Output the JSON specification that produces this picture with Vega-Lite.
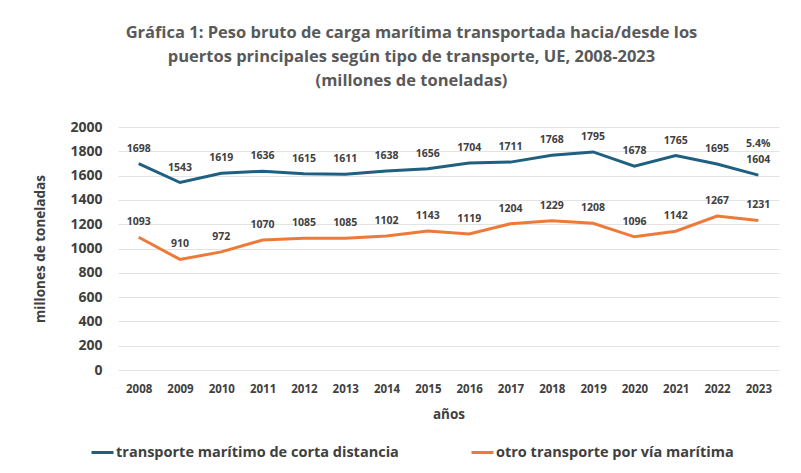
{
  "$schema": "https://vega.github.io/schema/vega-lite/v6.json",
  "width": 661,
  "height": 243,
  "autosize": {"type": "none"},
  "padding": {"left": 118, "top": 127, "right": 22, "bottom": 103},
  "background": "white",
  "config": {
    "font": "Open Sans",
    "view": {"stroke": null}
  },
  "title": {
    "text": ["Gráfica 1: Peso bruto de carga marítima transportada hacia/desde los", "puertos principales según tipo de transporte, UE, 2008-2023", "(millones de toneladas)"],
    "fontSize": 16.5,
    "fontWeight": "bold",
    "color": "#595959",
    "lineHeight": 24,
    "anchor": "middle",
    "dx": -37,
    "offset": 31
  },
  "data": {
    "values": [
      {"year": "2008", "serie": "transporte marítimo de corta distancia", "value": 1698},
      {"year": "2009", "serie": "transporte marítimo de corta distancia", "value": 1543},
      {"year": "2010", "serie": "transporte marítimo de corta distancia", "value": 1619},
      {"year": "2011", "serie": "transporte marítimo de corta distancia", "value": 1636},
      {"year": "2012", "serie": "transporte marítimo de corta distancia", "value": 1615},
      {"year": "2013", "serie": "transporte marítimo de corta distancia", "value": 1611},
      {"year": "2014", "serie": "transporte marítimo de corta distancia", "value": 1638},
      {"year": "2015", "serie": "transporte marítimo de corta distancia", "value": 1656},
      {"year": "2016", "serie": "transporte marítimo de corta distancia", "value": 1704},
      {"year": "2017", "serie": "transporte marítimo de corta distancia", "value": 1711},
      {"year": "2018", "serie": "transporte marítimo de corta distancia", "value": 1768},
      {"year": "2019", "serie": "transporte marítimo de corta distancia", "value": 1795},
      {"year": "2020", "serie": "transporte marítimo de corta distancia", "value": 1678},
      {"year": "2021", "serie": "transporte marítimo de corta distancia", "value": 1765},
      {"year": "2022", "serie": "transporte marítimo de corta distancia", "value": 1695},
      {"year": "2023", "serie": "transporte marítimo de corta distancia", "value": 1604},
      {"year": "2008", "serie": "otro transporte por vía marítima", "value": 1093},
      {"year": "2009", "serie": "otro transporte por vía marítima", "value": 910},
      {"year": "2010", "serie": "otro transporte por vía marítima", "value": 972},
      {"year": "2011", "serie": "otro transporte por vía marítima", "value": 1070},
      {"year": "2012", "serie": "otro transporte por vía marítima", "value": 1085},
      {"year": "2013", "serie": "otro transporte por vía marítima", "value": 1085},
      {"year": "2014", "serie": "otro transporte por vía marítima", "value": 1102},
      {"year": "2015", "serie": "otro transporte por vía marítima", "value": 1143},
      {"year": "2016", "serie": "otro transporte por vía marítima", "value": 1119},
      {"year": "2017", "serie": "otro transporte por vía marítima", "value": 1204},
      {"year": "2018", "serie": "otro transporte por vía marítima", "value": 1229},
      {"year": "2019", "serie": "otro transporte por vía marítima", "value": 1208},
      {"year": "2020", "serie": "otro transporte por vía marítima", "value": 1096},
      {"year": "2021", "serie": "otro transporte por vía marítima", "value": 1142},
      {"year": "2022", "serie": "otro transporte por vía marítima", "value": 1267},
      {"year": "2023", "serie": "otro transporte por vía marítima", "value": 1231}
    ]
  },
  "encoding": {
    "x": {
      "field": "year",
      "type": "ordinal",
      "scale": {"type": "point", "padding": 0.5},
      "axis": {
        "title": "años",
        "labelAngle": 0,
        "labelFontSize": 11.5,
        "labelFontWeight": "bold",
        "labelColor": "#404040",
        "labelPadding": 13,
        "ticks": false,
        "domain": false,
        "titleFontSize": 13.5,
        "titleFontWeight": "bold",
        "titleColor": "#404040",
        "titlePadding": 13
      }
    },
    "y": {
      "field": "value",
      "type": "quantitative",
      "scale": {"domain": [0, 2000], "nice": false},
      "axis": {
        "title": "millones de toneladas",
        "format": "d",
        "values": [0, 200, 400, 600, 800, 1000, 1200, 1400, 1600, 1800, 2000],
        "labelFontSize": 14,
        "labelFontWeight": "bold",
        "labelColor": "#404040",
        "labelPadding": 16,
        "ticks": false,
        "domain": false,
        "gridColor": "#e3e3e3",
        "gridWidth": 1,
        "titleFontSize": 13.5,
        "titleFontWeight": "bold",
        "titleColor": "#404040",
        "titlePadding": 22
      }
    }
  },
  "layer": [
    {
      "mark": {"type": "line", "strokeWidth": 3},
      "encoding": {
        "color": {
          "field": "serie",
          "type": "nominal",
          "sort": ["transporte marítimo de corta distancia", "otro transporte por vía marítima"],
          "scale": {
            "domain": ["transporte marítimo de corta distancia", "otro transporte por vía marítima"],
            "range": ["#1f5f80", "#ee7a3a"]
          },
          "legend": {
            "title": null,
            "orient": "none",
            "legendX": -28,
            "legendY": 313,
            "direction": "horizontal",
            "symbolType": "stroke",
            "symbolSize": 484,
            "symbolStrokeWidth": 3,
            "labelFontSize": 14.5,
            "labelFontWeight": "bold",
            "labelColor": "#404040",
            "labelOffset": 1,
            "labelLimit": 400,
            "columnPadding": 66
          }
        }
      }
    },
    {
      "mark": {"type": "text", "dy": -15, "fontSize": 10.5, "fontWeight": "bold", "color": "#404040"},
      "encoding": {
        "text": {"field": "value", "type": "quantitative"}
      }
    },
    {
      "data": {"values": [{"year": "2023", "value": 1604, "note": "5.4%"}]},
      "mark": {"type": "text", "dy": -31, "fontSize": 10.5, "fontWeight": "bold", "color": "#404040"},
      "encoding": {
        "text": {"field": "note", "type": "nominal"}
      }
    }
  ]
}
